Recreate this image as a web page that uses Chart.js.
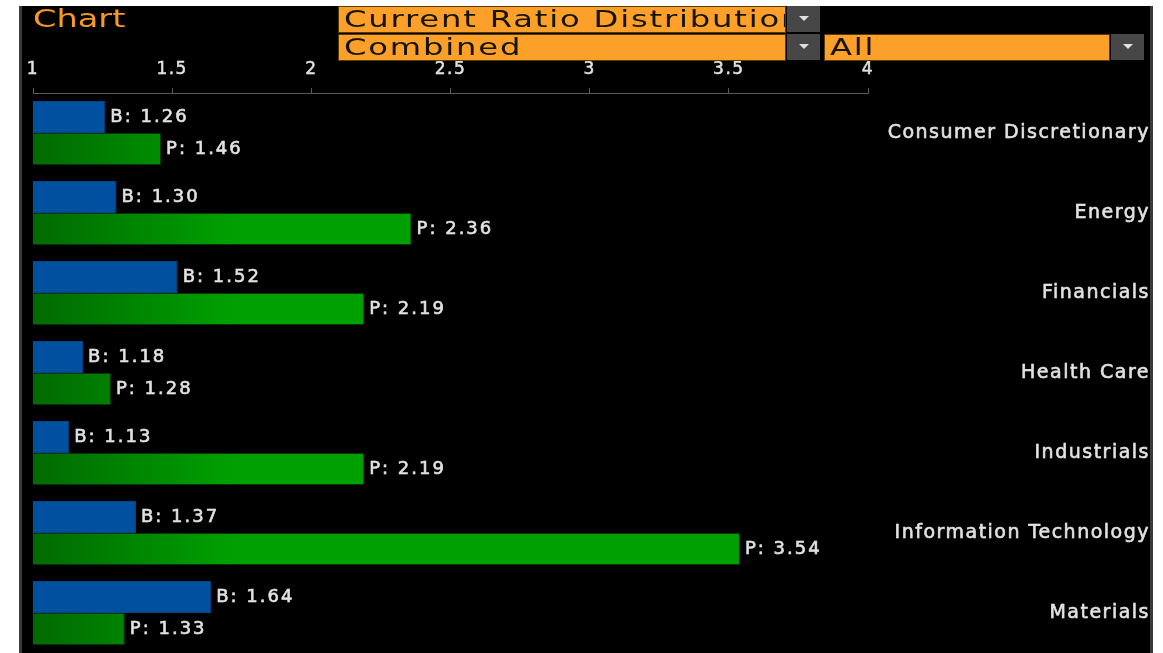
<!DOCTYPE html>
<html>
<head>
<meta charset="utf-8">
<script src="https://cdn.jsdelivr.net/npm/chart.js@4.4.1/dist/chart.umd.min.js"></script>
<style>
  body { margin: 0; background: #fff; width: 1163px; height: 653px; overflow: hidden; position: relative; font-family: "DejaVu Sans", sans-serif; }
  #panel { position: absolute; left: 19px; top: 6px; width: 1128px; height: 647px; background: #000;
           border-left: 3px solid #3a3a3a; border-right: 3px solid #3a3a3a; }
  #myChart { position: absolute; left: 0; top: 0; }
  .hdr { position: absolute; white-space: nowrap; overflow: hidden; }
  .hdr span { display: inline-block; transform: scaleX(1.4); transform-origin: left center; letter-spacing: 1.3px; }
  .title { left: 33px; top: 4px; color: #f59a23; font-size: 24px; height: 30px; line-height: 30px; overflow: visible; }
  .title span { letter-spacing: 0; }
  .box { background: #fca02a; border: 1px solid #5a3c08; color: #141400; font-size: 23px; height: 25px; line-height: 25px; padding-left: 5px; box-sizing: border-box; }
  .btn { background: #474747; height: 26px; width: 33px; }
  .btn::after { content: ""; position: absolute; left: 12px; top: 10px; border-left: 5px solid transparent; border-right: 5px solid transparent; border-top: 5px solid #e0e0e0; }
</style>
</head>
<body>
<div id="panel"></div>
<canvas id="myChart" width="1163" height="653"></canvas>

<div class="hdr title"><span>Chart</span></div>
<div class="hdr box" style="left:338px; top:6px; width:448px; height:27px;"><span>Current Ratio Distribution</span></div>
<div class="hdr btn" style="left:787px; top:6px;"></div>
<div class="hdr box" style="left:338px; top:34px; width:448px; height:27px;"><span>Combined</span></div>
<div class="hdr btn" style="left:787px; top:34px;"></div>
<div class="hdr box" style="left:824px; top:34px; width:286px; height:27px;"><span>All</span></div>
<div class="hdr btn" style="left:1111px; top:34px;"></div>

<script>
/* globals Chart:false */

const categories = ['Consumer Discretionary', 'Energy', 'Financials', 'Health Care',
  'Industrials', 'Information Technology', 'Materials'];
const bValues = [1.26, 1.30, 1.52, 1.18, 1.13, 1.37, 1.64];
const pValues = [1.46, 2.36, 2.19, 1.28, 2.19, 3.54, 1.33];
const xTickLabels = ['1', '1.5', '2', '2.5', '3', '3.5', '4'];
const seriesPrefix = ['B', 'P'];

const FONT = '"DejaVu Sans", Verdana, sans-serif';
const TEXT = '#e2e2e2';

let greenGrad = null;
function greenFill(context) {
  const area = context.chart.chartArea;
  if (!area) return '#00a000';
  if (!greenGrad) {
    greenGrad = context.chart.ctx.createLinearGradient(area.left, 0, area.left + 200, 0);
    greenGrad.addColorStop(0, '#006a00');
    greenGrad.addColorStop(1, '#00a000');
  }
  return greenGrad;
}

// the terminal font is wide, so space the canvas text a bit
const spacingPlugin = {
  id: 'spacing',
  beforeDraw(chart) {
    chart.ctx.letterSpacing = '1.5px';
  }
};

// "B: 1.26" style labels at the end of each bar
const valueLabels = {
  id: 'valueLabels',
  afterDatasetsDraw(chart) {
    const ctx = chart.ctx;
    ctx.save();
    ctx.letterSpacing = '2px';
    ctx.font = '18px ' + FONT;
    ctx.fillStyle = TEXT;
    ctx.strokeStyle = TEXT;
    ctx.lineWidth = 0.6;
    ctx.textAlign = 'left';
    ctx.textBaseline = 'middle';
    chart.data.datasets.forEach((ds, i) => {
      chart.getDatasetMeta(i).data.forEach((bar, j) => {
        let txt = seriesPrefix[i] + ': ' + ds.data[j].toFixed(2);
        ctx.fillText(txt, bar.x + 5, bar.y);
        ctx.strokeText(txt, bar.x + 5, bar.y);
      });
    });
    ctx.restore();
  }
};

const ctx = document.getElementById('myChart');
const myChart = new Chart(ctx, {
  type: 'bar',
  data: {
    labels: categories,
    datasets: [
      { label: 'B', data: bValues, backgroundColor: '#0050a0', borderColor: '#00468c', borderWidth: 1, borderSkipped: false },
      { label: 'P', data: pValues, backgroundColor: greenFill, borderColor: 'rgba(0,70,0,0.8)', borderWidth: 1, borderSkipped: false }
    ]
  },
  options: {
    responsive: false,
    animation: false,
    indexAxis: 'y',
    layout: { padding: { left: 33, right: 13, top: 50, bottom: 0 } },
    datasets: { bar: { categoryPercentage: 0.8, barPercentage: 1.0 } },
    scales: {
      x: {
        position: 'top',
        min: 1,
        max: 4,
        afterFit: function (scale) {
          scale.height = 43;
          scale.paddingLeft = 0;
          scale.paddingRight = 0;
        },
        ticks: {
          stepSize: 0.5,
          color: TEXT,
          textStrokeColor: TEXT,
          textStrokeWidth: 0.5,
          padding: 8,
          maxRotation: 0,
          font: { family: FONT, size: 17 },
          callback: function (val, index) {
            return xTickLabels[index];
          }
        },
        grid: { drawOnChartArea: false, drawTicks: true, tickLength: 5, color: '#5a5a5a' },
        border: { display: true, color: '#5a5a5a', width: 1 }
      },
      y: {
        position: 'right',
        afterFit: function (scale) {
          scale.width = 282;
          scale.paddingTop = 0;
          scale.paddingBottom = 0;
        },
        ticks: {
          color: TEXT,
          textStrokeColor: TEXT,
          textStrokeWidth: 0.6,
          crossAlign: 'far',
          padding: 0,
          font: { family: FONT, size: 19 }
        },
        grid: { display: false, drawTicks: false },
        border: { display: false }
      }
    },
    plugins: {
      legend: { display: false },
      title: { display: false },
      tooltip: { enabled: false }
    }
  },
  plugins: [spacingPlugin, valueLabels]
});
</script>
</body>
</html>
